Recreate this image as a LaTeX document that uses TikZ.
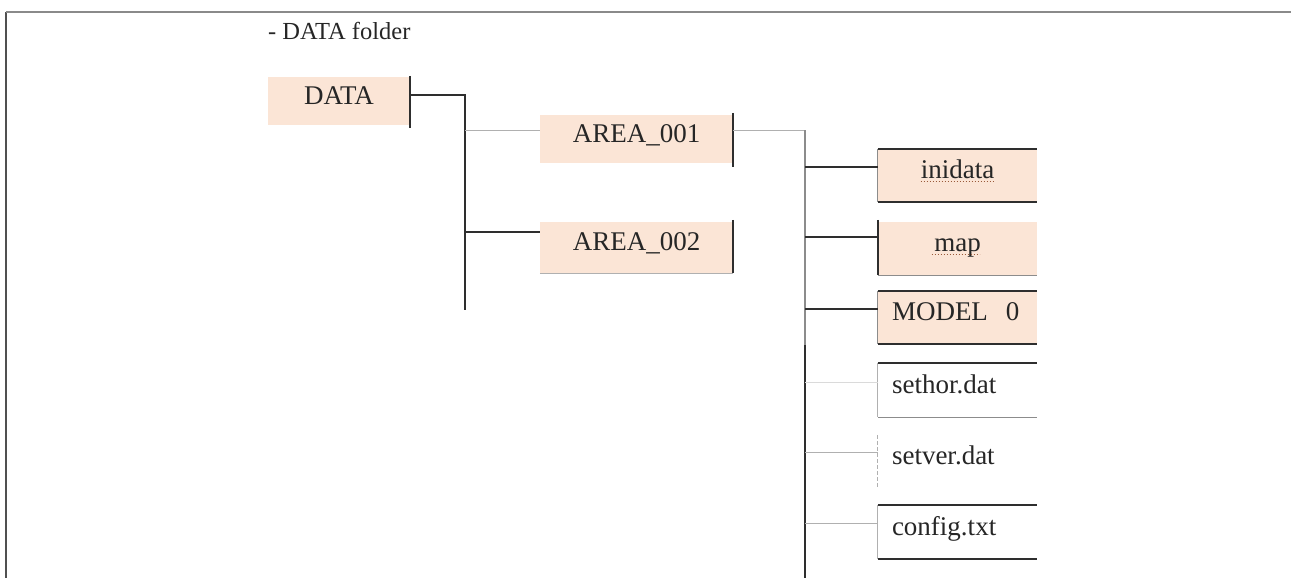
\documentclass[tikz,border=0pt]{standalone}
\usepackage{fontspec}
\setmainfont{Liberation Serif}
\definecolor{peach}{HTML}{FBE5D6}
\definecolor{dk}{HTML}{2E2E2E}
\definecolor{lt}{HTML}{B0B0B0}
\definecolor{md}{HTML}{8C8C8C}
\definecolor{vlt}{HTML}{DADADA}
\definecolor{txt}{HTML}{262626}
\definecolor{spell}{HTML}{9A5A3A}
\definecolor{frmA}{HTML}{505050}
\definecolor{frmB}{HTML}{8A8A8A}
\begin{document}
\begin{tikzpicture}[x=1pt,y=-1pt,
  boxtext/.style={inner sep=0pt, text=txt, font=\fontsize{27}{30}\selectfont, text height=0.66em, text depth=0pt},
  areabox/.style={boxtext, fill=peach, minimum width=193pt},
  leaf/.style={boxtext, text width=131pt, minimum width=159pt, minimum height=53pt},
  dark/.style={draw=dk, line width=1.5pt},
  darkb/.style={draw=dk, line width=2pt},
  light/.style={draw=lt, line width=1pt},
  mid/.style={draw=md, line width=1.3pt},
  vlight/.style={draw=vlt, line width=1pt},
  spellline/.style={draw=spell, dotted, line width=1pt},
]
\useasboundingbox (0,0) rectangle (1291,578);
% frame
\draw[draw=frmA, line width=1.2pt] (6,12) -- (6,578);
\draw[draw=frmB, line width=2pt] (6,12) -- (1291,12);

% title
\node[anchor=west, inner sep=0pt, text=txt, font=\fontsize{24.5}{27}\selectfont] (title) at (268,31) {- DATA folder};

% nodes
\node[boxtext, fill=peach, minimum width=142pt, minimum height=48pt] (data) at (339,101) {DATA};
\node[areabox, minimum height=48pt] (area1) at (636.5,139) {AREA\_001};
\node[areabox, minimum height=51pt] (area2) at (636.5,247.5) {AREA\_002};

\node[leaf, fill=peach, align=center] (inidata) at (957.5,175.5) {inidata};
\node[leaf, fill=peach, align=center] (map) at (957.5,248.5) {map};
\node[leaf, fill=peach, align=left] (model) at (957.5,317.5) {MODEL~~0};
\node[leaf, align=left, minimum height=54pt] (sethor) at (957.5,390) {sethor.dat};
\node[leaf, align=left, minimum height=52pt] (setver) at (957.5,461) {setver.dat};
\node[leaf, align=left, minimum height=54pt] (config) at (957.5,532) {config.txt};

% spell-check underlines
\draw[spellline] ([xshift=-37pt,yshift=-3pt]inidata.base) -- ([xshift=37pt,yshift=-3pt]inidata.base);
\draw[spellline] ([xshift=-26pt,yshift=-3pt]map.base) -- ([xshift=22pt,yshift=-3pt]map.base);

% box borders
\draw[dark] ([yshift=1pt]data.north east) -- ([yshift=-3pt]data.south east);
\draw[dark] ([yshift=2pt]area1.north east) -- ([yshift=-4pt]area1.south east);
\draw[dark] ([yshift=2pt]area2.north east) -- (area2.south east);
\draw[light] (area2.south west) -- (area2.south east);

\draw[darkb] (inidata.north west) -- (inidata.north east);
\draw[darkb] (inidata.south west) -- (inidata.south east);
\draw[mid, line width=1pt] (inidata.north west) -- (inidata.south west);

\draw[dark] ([yshift=2pt]map.north west) -- (map.south west);
\draw[mid, line width=1pt] (map.south west) -- (map.south east);

\draw[darkb] (model.north west) -- (model.north east);
\draw[darkb] (model.south west) -- (model.south east);
\draw[mid, line width=1pt] (model.north west) -- (model.south west);

\draw[darkb] (sethor.north west) -- (sethor.north east);
\draw[mid] (sethor.south west) -- (sethor.south east);
\draw[light] (sethor.north west) -- (sethor.south west);

\draw[light, dashed, dash pattern=on 4pt off 2pt] (setver.north west) -- (setver.south west);

\draw[darkb] (config.north west) -- (config.north east);
\draw[dark] (config.south west) -- (config.south east);
\draw[light] (config.north west) -- (config.south west);

% connectors level 1
\coordinate (t1) at (465,95);
\coordinate (t1end) at (465,310);
\draw[dark] (data.east |- t1) -- (t1) -- (t1end);
\coordinate (a1in) at ([yshift=9pt]area1.west);
\coordinate (a2in) at ([yshift=15.5pt]area2.west);
\draw[light] (t1 |- a1in) -- (a1in);
\draw[dark] (t1 |- a2in) -- (a2in);

% connectors level 2
\coordinate (a1out) at ([yshift=9pt]area1.east);
\coordinate (t2) at (805,130);
\coordinate (t2mid) at (805,345);
\coordinate (t2end) at (805,578);
\draw[light] (a1out) -- (t2);
\draw[mid] (t2) -- (t2mid);
\draw[darkb] (t2mid) -- (t2end);

\coordinate (c1) at ([yshift=8.5pt]inidata.west);
\coordinate (c2) at ([yshift=11.5pt]map.west);
\coordinate (c3) at ([yshift=8.5pt]model.west);
\coordinate (c4) at ([yshift=8pt]sethor.west);
\coordinate (c5) at ([yshift=9pt]setver.west);
\coordinate (c6) at ([yshift=9pt]config.west);
\draw[dark] (t2 |- c1) -- (c1);
\draw[dark] (t2 |- c2) -- (c2);
\draw[dark] (t2 |- c3) -- (c3);
\draw[vlight] (t2 |- c4) -- (c4);
\draw[light] (t2 |- c5) -- (c5);
\draw[light] (t2 |- c6) -- (c6);
\end{tikzpicture}
\end{document}
